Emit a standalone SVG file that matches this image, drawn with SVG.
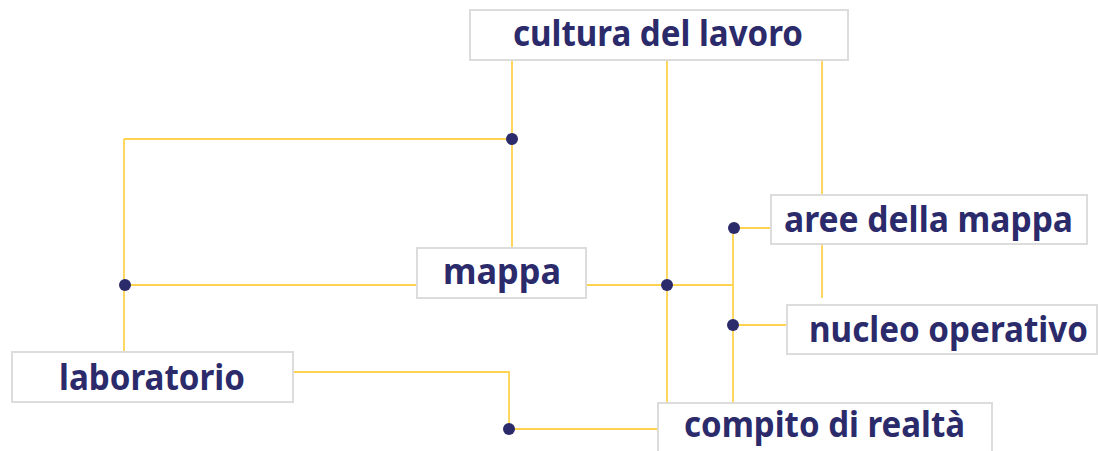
<svg xmlns="http://www.w3.org/2000/svg" width="1098" height="451" viewBox="0 0 1098 451">
<style>
.box{fill:#ffffff;stroke:#dcdcdc;stroke-width:2}
.lbl{font-family:"Noto Sans","DejaVu Sans",sans-serif;font-weight:bold;font-size:35px;fill:#2b2a6b}
.ln{fill:none;stroke:#fdd34f;stroke-width:1.8}
.dot{fill:#2b2a6b}
</style>
<rect width="1098" height="451" fill="#ffffff"/>
<g id="connectors">
<path class="ln" d="M512 60V248"/>
<path class="ln" d="M124 139H512"/>
<path class="ln" d="M124 139V352"/>
<path class="ln" d="M124 285H417"/>
<path class="ln" d="M586 285H733"/>
<path class="ln" d="M667 60V403"/>
<path class="ln" d="M733 228V403"/>
<path class="ln" d="M733 228H771"/>
<path class="ln" d="M733 325H787"/>
<path class="ln" d="M822 60V195"/>
<path class="ln" d="M822 244V298"/>
<path class="ln" d="M293 372H509V429H658"/>
<circle class="dot" cx="512" cy="139" r="6"/>
<circle class="dot" cx="125" cy="285" r="6"/>
<circle class="dot" cx="667" cy="285" r="6"/>
<circle class="dot" cx="734" cy="228" r="6"/>
<circle class="dot" cx="733" cy="325" r="6"/>
<circle class="dot" cx="509" cy="429" r="6"/>
</g>
<g id="cultura">
<rect class="box" x="470" y="10" width="378" height="50"/>
<text class="lbl" x="513" y="46" textLength="290" lengthAdjust="spacingAndGlyphs">cultura del lavoro</text>
</g>
<g id="mappa">
<rect class="box" x="417" y="248" width="169" height="50"/>
<text class="lbl" x="443" y="284" textLength="118" lengthAdjust="spacingAndGlyphs">mappa</text>
</g>
<g id="aree">
<rect class="box" x="771" y="195" width="316" height="49"/>
<text class="lbl" x="784" y="232" textLength="289" lengthAdjust="spacingAndGlyphs">aree della mappa</text>
</g>
<g id="nucleo">
<rect class="box" x="787" y="305" width="310" height="49"/>
<text class="lbl" x="809" y="342" textLength="279" lengthAdjust="spacingAndGlyphs">nucleo operativo</text>
</g>
<g id="laboratorio">
<rect class="box" x="12" y="352" width="281" height="50"/>
<text class="lbl" x="59" y="390" textLength="186" lengthAdjust="spacingAndGlyphs">laboratorio</text>
</g>
<g id="compito">
<rect class="box" x="658" y="403" width="334" height="60"/>
<text class="lbl" x="684" y="437" textLength="281" lengthAdjust="spacingAndGlyphs">compito di realtà</text>
</g>
</svg>
